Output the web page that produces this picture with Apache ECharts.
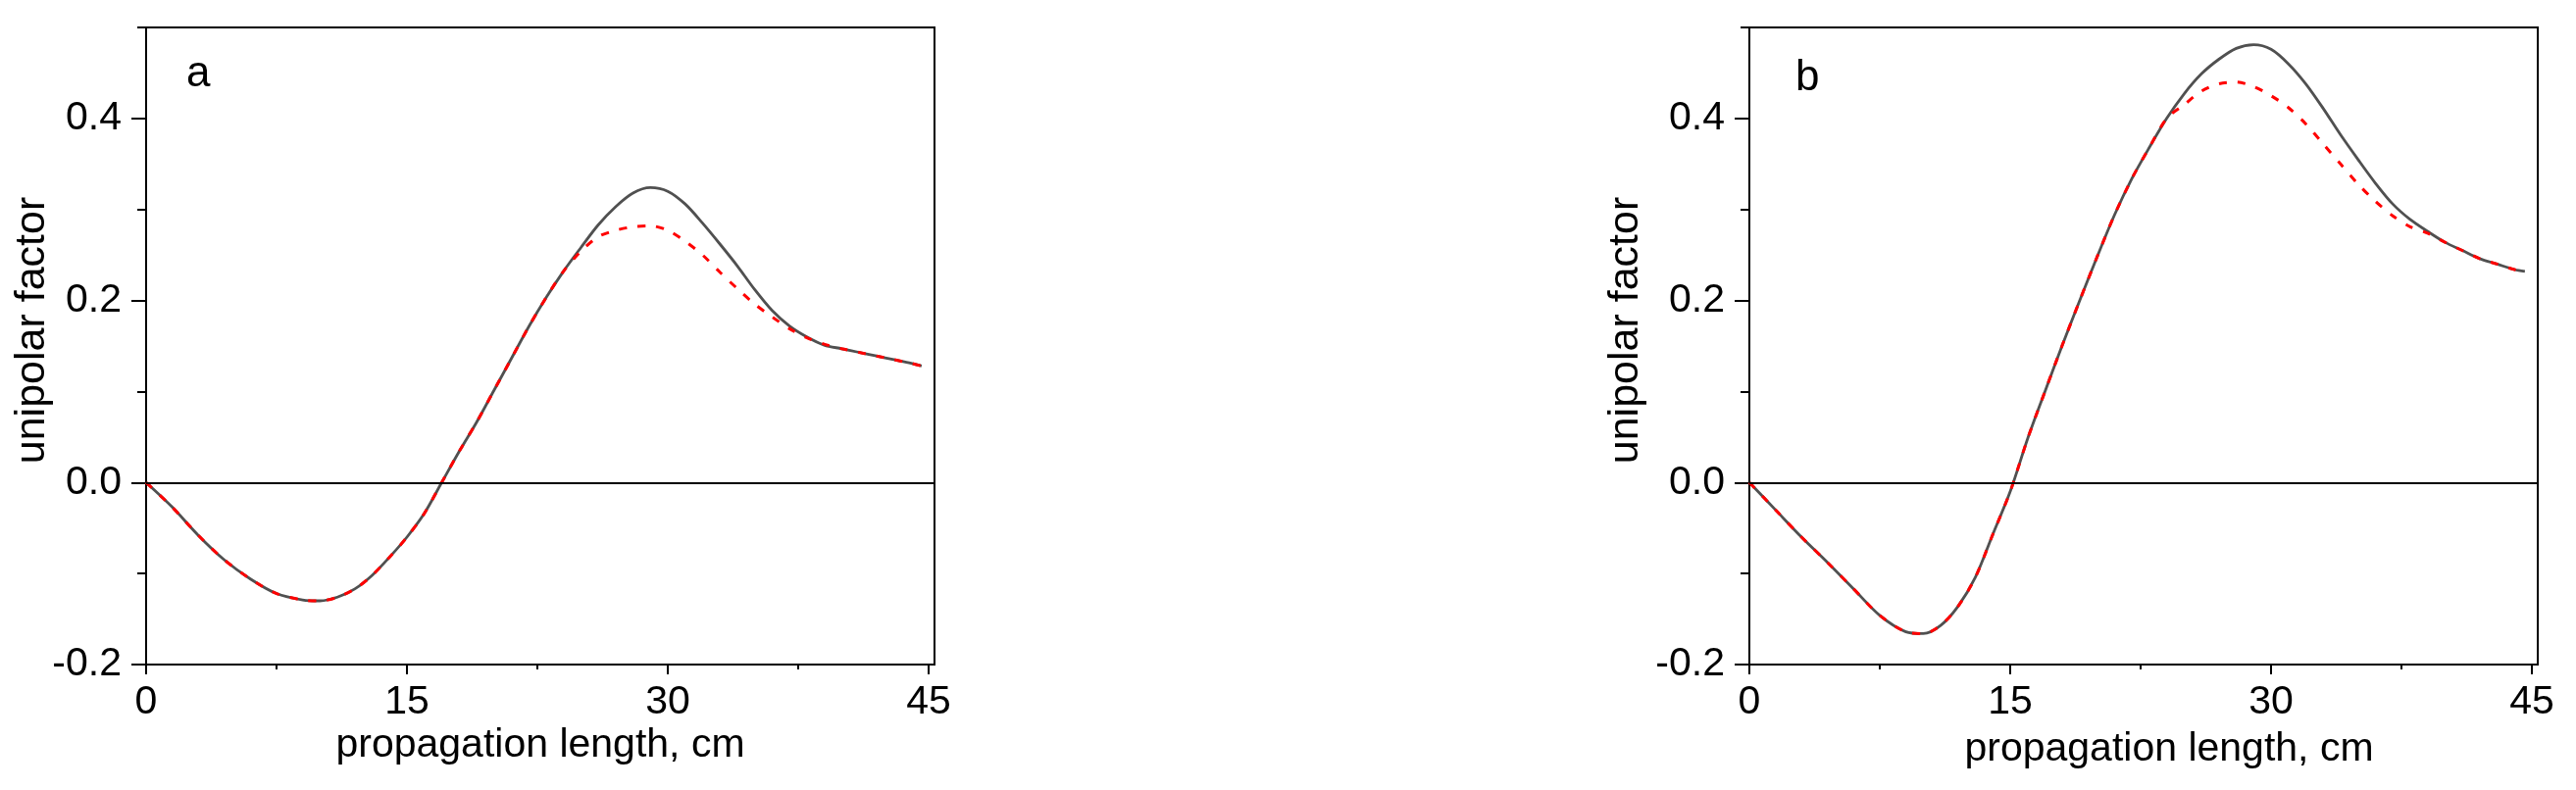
<!DOCTYPE html>
<html>
<head>
<meta charset="utf-8">
<script src="https://cdn.jsdelivr.net/npm/echarts@6/dist/echarts.min.js"></script>
<style>
  html, body { margin: 0; padding: 0; background: #fff; }
  #chart { width: 2627px; height: 806px; }
</style>
</head>
<body>
<div id="chart"></div>
<script>
// propagation length, cm (same sampling for both panels)
const xLen = [0, 1.5, 3, 4.5, 6, 7.5, 9, 10, 11, 12, 13, 14, 15, 16, 17, 18, 19, 20, 21, 22, 23, 24,
  25, 26, 27, 28, 29, 30, 31, 32, 33, 34, 35, 36, 37, 38, 39, 40, 41, 42, 43, 44, 44.6]

// panel a
const solidA = [0, -0.027, -0.058, -0.085, -0.106, -0.122, -0.129, -0.130, -0.126, -0.117, -0.102, -0.082,
  -0.060, -0.034, 0.000, 0.034, 0.066, 0.101, 0.136, 0.171, 0.203, 0.232,
  0.258, 0.283, 0.303, 0.318, 0.324, 0.320, 0.306, 0.285, 0.262, 0.238, 0.212, 0.189, 0.172, 0.160,
  0.151, 0.147, 0.143, 0.139, 0.135, 0.131, 0.128]
const dashedA = [0, -0.027, -0.058, -0.085, -0.106, -0.122, -0.129, -0.130, -0.126, -0.117, -0.102, -0.082,
  -0.060, -0.034, 0.000, 0.034, 0.066, 0.101, 0.136, 0.171, 0.203, 0.232,
  0.254, 0.270, 0.277, 0.281, 0.282, 0.277, 0.265, 0.250, 0.231, 0.213, 0.196, 0.182, 0.169, 0.159,
  0.152, 0.147, 0.143, 0.139, 0.135, 0.131, 0.128]

// panel b
const solidB = [0, -0.030, -0.060, -0.088, -0.117, -0.146, -0.164, -0.166, -0.157, -0.136, -0.104, -0.057,
  -0.010, 0.048, 0.100, 0.151, 0.200, 0.248, 0.294, 0.334, 0.368, 0.400,
  0.427, 0.449, 0.465, 0.477, 0.481, 0.476, 0.460, 0.438, 0.411, 0.382, 0.355, 0.329, 0.306, 0.289,
  0.276, 0.264, 0.255, 0.246, 0.240, 0.234, 0.232]
const dashedB = [0, -0.030, -0.060, -0.088, -0.117, -0.146, -0.164, -0.166, -0.157, -0.136, -0.104, -0.057,
  -0.010, 0.048, 0.100, 0.151, 0.200, 0.248, 0.294, 0.334, 0.368, 0.400,
  0.415, 0.430, 0.438, 0.440, 0.435, 0.425, 0.412, 0.394, 0.372, 0.350, 0.328, 0.309, 0.293, 0.281,
  0.274, 0.264, 0.255, 0.246, 0.240, 0.234, 0.232]

// ticks
const xMajor = [0, 15, 30, 45]
const xMinor = [7.5, 22.5, 37.5]
const yMajor = [-0.2, 0, 0.2, 0.4]
const yMinor = [-0.1, 0.1, 0.3, 0.5]
const panelLabels = ['a', 'b']

const FONT = 'Liberation Sans, Arial, sans-serif'
const X_MAX = 45.34
const Y_MIN = -0.2
const Y_MAX = 0.5

const pairs = (xs, ys) => xs.map((x, i) => [x, ys[i]])

// the two panels are not laid out identically in the original figure
const panels = [
  { left: 149, xNameGap: 62, xNamePad: 0, yNameGap: 94 },
  { left: 1784, xNameGap: 66, xNamePad: 52, yNameGap: 104 },
]

const grids = panels.map((p) => ({
  left: p.left, top: 28, width: 804, height: 650,
  show: true, borderColor: '#000', borderWidth: 2, containLabel: false,
}))

const tickStyle = { color: '#000', width: 2 }
const xAxes = []
const yAxes = []
panels.forEach((p, i) => {
  // major axis with labels
  xAxes.push({
    type: 'value', gridIndex: i, position: 'bottom', min: 0, max: X_MAX,
    name: 'propagation length, cm', nameLocation: 'middle', nameGap: p.xNameGap, nameMoveOverlap: false,
    nameTextStyle: { fontFamily: FONT, fontSize: 41, color: '#000', padding: [0, 0, 0, p.xNamePad] },
    axisLine: { show: true, onZero: false, lineStyle: tickStyle },
    axisTick: { show: true, length: 10, customValues: xMajor, lineStyle: tickStyle },
    axisLabel: { customValues: xMajor, margin: 18, fontFamily: FONT, fontSize: 41, color: '#000',
      formatter: (v) => String(Math.round(v)) },
    splitLine: { show: false },
  })
  // minor ticks only
  xAxes.push({
    type: 'value', gridIndex: i, position: 'bottom', offset: 0, min: 0, max: X_MAX,
    axisLine: { show: false, onZero: false },
    axisTick: { show: true, length: 5, customValues: xMinor, lineStyle: tickStyle },
    axisLabel: { show: false },
    splitLine: { show: false },
  })
  yAxes.push({
    type: 'value', gridIndex: i, position: 'left', min: Y_MIN, max: Y_MAX,
    name: 'unipolar factor', nameLocation: 'middle', nameGap: p.yNameGap, nameMoveOverlap: false,
    nameTextStyle: { fontFamily: FONT, fontSize: 43, color: '#000', padding: [0, 0, 0, 32] },
    axisLine: { show: true, onZero: false, lineStyle: tickStyle },
    axisTick: { show: true, length: 15, customValues: yMajor, lineStyle: tickStyle },
    axisLabel: { customValues: yMajor, margin: 25, fontFamily: FONT, fontSize: 41, color: '#000',
      formatter: (v) => v.toFixed(1) },
    splitLine: { show: false },
  })
  yAxes.push({
    type: 'value', gridIndex: i, position: 'left', offset: 0, min: Y_MIN, max: Y_MAX,
    axisLine: { show: false, onZero: false },
    axisTick: { show: true, length: 9, customValues: yMinor, lineStyle: tickStyle },
    axisLabel: { show: false },
    splitLine: { show: false },
  })
})

const solidSeries = (data, i) => ({
  type: 'line', xAxisIndex: i * 2, yAxisIndex: i * 2, data, smooth: 0.3,
  showSymbol: false, silent: true, z: 3,
  lineStyle: { color: '#505050', width: 2.8 },
  markLine: {
    silent: true, symbol: ['none', 'none'], label: { show: false },
    lineStyle: { color: '#000', width: 2, type: 'solid' },
    data: [{ yAxis: 0 }],
  },
})
const dashedSeries = (data, i) => ({
  type: 'line', xAxisIndex: i * 2, yAxisIndex: i * 2, data, smooth: 0.3,
  showSymbol: false, silent: true, z: 4,
  lineStyle: { color: '#ff0000', width: 3, type: [8, 11] },
})

const option = {
  backgroundColor: '#fff',
  animation: false,
  grid: grids,
  xAxis: xAxes,
  yAxis: yAxes,
  graphic: [
    { type: 'text', left: 190, top: 54, style: { text: panelLabels[0], font: '44px ' + FONT, fill: '#000' } },
    { type: 'text', left: 1831, top: 58, style: { text: panelLabels[1], font: '44px ' + FONT, fill: '#000' } },
  ],
  series: [
    solidSeries(pairs(xLen, solidA), 0),
    dashedSeries(pairs(xLen, dashedA), 0),
    solidSeries(pairs(xLen, solidB), 1),
    dashedSeries(pairs(xLen, dashedB), 1),
  ],
}

const chart = echarts.init(document.getElementById('chart'), null, { renderer: 'canvas' })
chart.setOption(option)
</script>
</body>
</html>
